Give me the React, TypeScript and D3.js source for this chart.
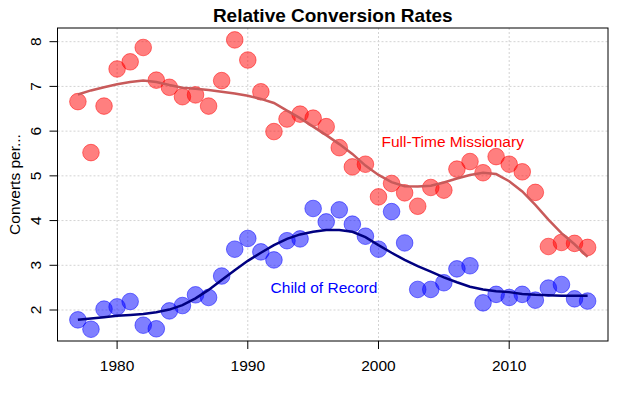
import React from "react";
import * as d3 from "d3";

const years = d3.range(1977, 2017);

// Full-Time Missionary: converts per missionary
const missionary = [
  6.66, 5.52, 6.56, 7.39, 7.55, 7.87, 7.14, 6.98, 6.77, 6.81,
  6.56, 7.13, 8.04, 7.59, 6.88, 5.99, 6.27, 6.38, 6.29, 6.1,
  5.63, 5.2, 5.26, 4.53, 4.83, 4.62, 4.32, 4.74, 4.68, 5.15,
  5.32, 5.07, 5.43, 5.26, 5.09, 4.63, 3.42, 3.51, 3.49, 3.4,
];
const missionaryFit = [
  6.82, 6.91, 6.98, 7.05, 7.1, 7.13, 7.1, 7.03, 6.97, 6.95,
  6.92, 6.88, 6.84, 6.79, 6.72, 6.63, 6.46, 6.29, 6.1, 5.91,
  5.71, 5.49, 5.23, 5.02, 4.86, 4.77, 4.76, 4.78, 4.85, 4.94,
  5.02, 5.07, 5.04, 4.88, 4.65, 4.35, 4.02, 3.72, 3.47, 3.19,
];

// Child of Record
const child = [
  1.78, 1.57, 2.02, 2.07, 2.19, 1.66, 1.58, 1.98, 2.1, 2.34,
  2.28, 2.76, 3.36, 3.6, 3.3, 3.12, 3.55, 3.59, 4.27, 3.97,
  4.24, 3.92, 3.65, 3.36, 4.2, 3.5, 2.46, 2.46, 2.61, 2.92,
  2.99, 2.16, 2.35, 2.28, 2.35, 2.22, 2.49, 2.57, 2.25, 2.2,
];
const childFit = [
  1.78, 1.81, 1.84, 1.87, 1.89, 1.91, 1.95, 2.01, 2.11, 2.26,
  2.45, 2.67, 2.89, 3.1, 3.28, 3.45, 3.59, 3.69, 3.75, 3.79,
  3.79, 3.75, 3.63, 3.45, 3.28, 3.12, 2.98, 2.86, 2.73, 2.62,
  2.52, 2.46, 2.42, 2.4, 2.36, 2.34, 2.33, 2.32, 2.32, 2.32,
];

const xTicks = [1980, 1990, 2000, 2010];
const yTicks = [2, 3, 4, 5, 6, 7, 8];

const W = 618;
const H = 399;
const plot = { left: 57.5, right: 608, top: 28, bottom: 341 };
const FONT = "'Liberation Sans', Arial, sans-serif";

export default function App() {
  const x = d3.scaleLinear().domain([1975.44, 2017.56]).range([plot.left, plot.right]);
  const y = d3.scaleLinear().domain([1.307, 8.306]).range([plot.bottom, plot.top]);

  const line = d3
    .line<number>()
    .x((_, i) => x(years[i]))
    .y((d) => y(d));

  const cx = (plot.left + plot.right) / 2;
  const cy = (plot.top + plot.bottom) / 2;

  return (
    <div style={{ position: "absolute", left: 0, top: 0 }}>
      <svg width={W} height={H} style={{ display: "block", background: "#fff" }} fontFamily={FONT}>
        {/* grid */}
        <g stroke="#d3d3d3" strokeWidth={1} strokeDasharray="2,2">
          {xTicks.map((t) => (
            <line key={t} x1={x(t)} x2={x(t)} y1={plot.top} y2={plot.bottom} />
          ))}
          {yTicks.map((t) => (
            <line key={t} x1={plot.left} x2={plot.right} y1={y(t)} y2={y(t)} />
          ))}
        </g>

        {/* points */}
        <g fill="rgba(0,0,255,0.5)" stroke="rgba(0,0,255,0.5)">
          {child.map((v, i) => (
            <circle key={i} cx={x(years[i])} cy={y(v)} r={8.3} />
          ))}
        </g>
        <g fill="rgba(255,0,0,0.5)" stroke="rgba(255,0,0,0.5)">
          {missionary.map((v, i) => (
            <circle key={i} cx={x(years[i])} cy={y(v)} r={8.3} />
          ))}
        </g>

        {/* smooth fits */}
        <path d={line(missionaryFit) ?? ""} fill="none" stroke="#c85a5a" strokeWidth={2.5} />
        <path d={line(childFit) ?? ""} fill="none" stroke="#000080" strokeWidth={2.5} />

        {/* labels */}
        <text x={452.7} y={146.5} fill="#ff0000" fontSize={15.5} textAnchor="middle">
          Full-Time Missionary
        </text>
        <text x={324} y={293.3} fill="#0000ff" fontSize={15.5} textAnchor="middle">
          Child of Record
        </text>

        {/* box */}
        <rect
          x={plot.left}
          y={plot.top}
          width={plot.right - plot.left}
          height={plot.bottom - plot.top}
          fill="none"
          stroke="#000"
          strokeWidth={1}
        />

        {/* x axis */}
        <g>
          {xTicks.map((t) => (
            <g key={t}>
              <line x1={x(t)} x2={x(t)} y1={plot.bottom} y2={plot.bottom + 8} stroke="#000" />
              <text x={x(t)} y={370.5} fontSize={15.5} textAnchor="middle" fill="#000">
                {t}
              </text>
            </g>
          ))}
        </g>

        {/* y axis */}
        <g>
          {yTicks.map((t) => (
            <g key={t}>
              <line x1={plot.left - 8} x2={plot.left} y1={y(t)} y2={y(t)} stroke="#000" />
              <text
                transform={`translate(41,${y(t)}) rotate(-90)`}
                fontSize={15.5}
                textAnchor="middle"
                fill="#000"
              >
                {t}
              </text>
            </g>
          ))}
        </g>

        <text
          transform={`translate(20,${cy}) rotate(-90)`}
          fontSize={15.5}
          textAnchor="middle"
          fill="#000"
        >
          Converts per...
        </text>

        <text x={cx} y={22} fontSize={19} fontWeight="bold" textAnchor="middle" fill="#000">
          Relative Conversion Rates
        </text>
      </svg>
    </div>
  );
}
